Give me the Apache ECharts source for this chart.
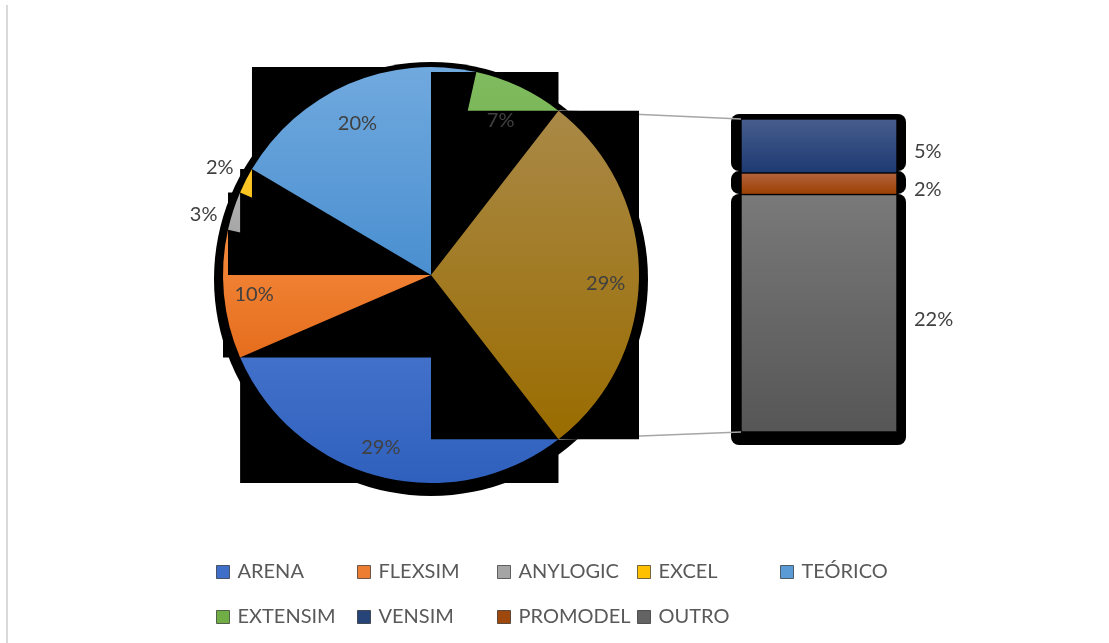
<!DOCTYPE html>
<html>
<head>
<meta charset="utf-8">
<script src="https://cdn.jsdelivr.net/npm/echarts@6/dist/echarts.min.js"></script>
<style>
  html, body { margin: 0; padding: 0; background: #fff; }
  #chart { width: 1109px; height: 643px; }
</style>
</head>
<body>
<div id="chart"></div>
<script>
// pie slices, clockwise from the split-out slice
const pieNames = ['ARENA', 'FLEXSIM', 'ANYLOGIC', 'EXCEL', 'TEÓRICO', 'EXTENSIM'];
const pieValues = [29, 10, 3, 2, 20, 7];
// the part split out into the bar, top to bottom
const otherNames = ['VENSIM', 'PROMODEL', 'OUTRO'];
const otherValues = [5, 2, 22];
// legend, column by column
const legendColumns = [
  ['ARENA', 'EXTENSIM'],
  ['FLEXSIM', 'VENSIM'],
  ['ANYLOGIC', 'PROMODEL'],
  ['EXCEL', 'OUTRO'],
  ['TEÓRICO']
];

// colours (gradient top, bottom)
const shades = {
  'ARENA': ['#4d7cd1', '#2f60bd'],
  'FLEXSIM': ['#f68b3e', '#e56d1d'],
  'ANYLOGIC': ['#b2b2b2', '#9a9a9a'],
  'EXCEL': ['#ffc82a', '#f5b800'],
  'TEÓRICO': ['#70a9de', '#4a8fd0'],
  'EXTENSIM': ['#80bc5f', '#6aa944'],
  'Outros': ['#a98947', '#9a6c00'],
  'VENSIM': ['#475d8d', '#1d3a72'],
  'PROMODEL': ['#b3633f', '#9c3f00'],
  'OUTRO': ['#797979', '#565656']
};
const flat = {
  'ARENA': '#3f6fc8', 'FLEXSIM': '#ed7d31', 'ANYLOGIC': '#a5a5a5', 'EXCEL': '#ffc000',
  'TEÓRICO': '#5b9bd5', 'EXTENSIM': '#70ad47', 'VENSIM': '#264478', 'PROMODEL': '#9e480e',
  'OUTRO': '#636363'
};
const grad = c => new echarts.graphic.LinearGradient(0, 0, 0, 1, [
  { offset: 0, color: c[0] }, { offset: 1, color: c[1] }
]);

const font = 'Lato, "Noto Sans", sans-serif';
const labelColor = '#404040';

// small hand nudges of the pie labels [dx, dy], like Excel's placement
const labelNudge = {
  'ARENA': [-6, 0], 'FLEXSIM': [0, 3], 'ANYLOGIC': [-2, 13],
  'TEÓRICO': [-3, 12], 'EXTENSIM': [-6, 6], 'Outros': [-3, 9]
};
// dx through side padding, dy through two empty lines above the text
function nudgedLabel(n) {
  const [dx, dy] = labelNudge[n] || [0, 0];
  const out = { padding: [0, Math.max(-2 * dx, 0), 0, Math.max(2 * dx, 0)] };
  if (dy > 0) {
    out.formatter = '\n\n{c}%';
    out.lineHeight = dy;
  }
  return out;
}

// pie geometry
const cx = 431, cy = 275, R = 208;
const otherTotal = otherValues.reduce((a, b) => a + b, 0);
const sliceNames = pieNames.concat(['Outros']);
const sliceValues = pieValues.concat([otherTotal]);
const total = sliceValues.reduce((a, b) => a + b, 0);
// split-out slice centred on 3 o'clock
const startAngle = -otherTotal / total * 180;

// angles (screen degrees, clockwise from 3 o'clock) of slice i
function sliceAngles(i) {
  let t0 = -startAngle;
  for (let j = 0; j < i; j++) t0 += sliceValues[j] / total * 360;
  return [t0, t0 + sliceValues[i] / total * 360];
}
function pointAt(t) {
  const a = t * Math.PI / 180;
  return [cx + R * Math.cos(a), cy + R * Math.sin(a)];
}
// bounding box of one wedge (centre + arc)
function sliceBox(i) {
  const [t0, t1] = sliceAngles(i);
  const pts = [[cx, cy], pointAt(t0), pointAt(t1)];
  for (let k = Math.ceil(t0 / 90); k * 90 <= t1; k++) pts.push(pointAt(k * 90));
  const xs = pts.map(p => p[0]), ys = pts.map(p => p[1]);
  const x = Math.min(...xs), y = Math.min(...ys);
  return { x, y, width: Math.max(...xs) - x, height: Math.max(...ys) - y };
}

const series = [];

// dark rim behind the pie
series.push({
  type: 'pie', center: [cx, cy + 4], radius: R + 9, silent: true, z: 1,
  label: { show: false }, labelLine: { show: false },
  itemStyle: { color: '#000', borderWidth: 0 },
  data: [{ value: 1, name: '' }]
});

// one layer per slice: black box first, then the slice on top
sliceNames.forEach((name, i) => {
  series.push({
    type: 'custom', coordinateSystem: 'none', silent: true, z: 9 + 2 * i,
    data: [[i]],
    renderItem: () => ({ type: 'rect', shape: sliceBox(i), style: { fill: '#000' } })
  });
  series.push({
    type: 'pie', center: [cx, cy], radius: R, startAngle, clockwise: true,
    silent: true, z: 10 + 2 * i,
    label: { show: false }, labelLine: { show: false },
    itemStyle: { borderWidth: 0 },
    data: sliceNames.map((n, j) => ({
      name: n, value: sliceValues[j],
      itemStyle: { color: j === i ? grad(shades[n]) : 'rgba(0,0,0,0)' }
    }))
  });
});

// percentage labels: big slices near the rim, small ones outside
function labelPie(outer, test) {
  return {
    type: 'pie', center: [cx, cy], radius: [0, outer], startAngle, clockwise: true,
    silent: true, z: 40, avoidLabelOverlap: false,
    itemStyle: { color: 'rgba(0,0,0,0)', borderWidth: 0 },
    labelLine: { show: false },
    label: {
      position: 'inside', formatter: '{c}%',
      fontFamily: font, fontSize: 20, color: labelColor
    },
    data: sliceNames.map((n, j) => ({
      name: n, value: sliceValues[j],
      label: Object.assign({ show: test(sliceValues[j]) }, nudgedLabel(n))
    }))
  };
}
series.push(labelPie(2 * 0.84 * R, v => v >= 5));
series.push(labelPie(2 * 1.125 * R, v => v < 5));

// the bar: black halo behind, coloured segments on top (bottom to top)
for (let k = otherNames.length - 1; k >= 0; k--) {
  const name = otherNames[k];
  series.push({
    type: 'bar', stack: 'halo', xAxisIndex: 1, yAxisIndex: 1, barWidth: '100%',
    silent: true, z: 2, data: [otherValues[k]],
    itemStyle: { color: '#000', borderRadius: 8 }
  });
  series.push({
    type: 'bar', name, stack: 'other', xAxisIndex: 0, yAxisIndex: 0, barWidth: '100%',
    silent: true, z: 4, data: [otherValues[k]],
    itemStyle: { color: grad(shades[name]), borderColor: 'rgba(0,0,0,0.4)', borderWidth: 1 },
    label: {
      show: true, position: 'right', distance: 17, offset: [0, 6], formatter: '{c}%',
      fontFamily: font, fontSize: 20, color: labelColor
    }
  });
}

const legendLeft = [216, 357, 497, 637, 780];

const option = {
  animation: false,
  backgroundColor: '#fff',
  grid: [
    { left: 741, top: 119, width: 156, height: 313 },
    { left: 731, top: 114, width: 175, height: 331 }
  ],
  xAxis: [
    { type: 'category', gridIndex: 0, data: [''], show: false },
    { type: 'category', gridIndex: 1, data: [''], show: false }
  ],
  yAxis: [
    { type: 'value', gridIndex: 0, min: 0, max: otherTotal, show: false },
    { type: 'value', gridIndex: 1, min: 0, max: otherTotal, show: false }
  ],
  legend: legendColumns.map((col, k) => ({
    orient: 'vertical', left: legendLeft[k], top: 560, padding: 0, itemGap: 21,
    itemWidth: 13, itemHeight: 13, selectedMode: false,
    textStyle: { fontFamily: font, fontSize: 20, color: '#595959', lineHeight: 24, padding: [0, 0, 0, 3] },
    data: col.map(n => ({
      name: n, icon: 'rect',
      itemStyle: { color: flat[n], borderColor: 'rgba(0,0,0,0.55)', borderWidth: 1 }
    }))
  })),
  series
};

const chart = echarts.init(document.getElementById('chart'));
chart.setOption(option);

// connector lines from the split-out slice to the bar, plus the frame edge
const barLeft = 741;
const barTop = chart.convertToPixel({ yAxisIndex: 0 }, otherTotal);
const barBottom = chart.convertToPixel({ yAxisIndex: 0 }, 0);
const [a0, a1] = sliceAngles(sliceNames.length - 1);
const pTop = pointAt(a0), pBottom = pointAt(a1);
chart.setOption({
  graphic: [
    { type: 'line', z: 5, silent: true, shape: { x1: pTop[0], y1: pTop[1], x2: barLeft, y2: barTop },
      style: { stroke: '#a6a6a6', lineWidth: 1.5 } },
    { type: 'line', z: 5, silent: true, shape: { x1: pBottom[0], y1: pBottom[1], x2: barLeft, y2: barBottom },
      style: { stroke: '#a6a6a6', lineWidth: 1.5 } },
    { type: 'line', z: 0, silent: true, shape: { x1: 7, y1: 5, x2: 7, y2: 643 },
      style: { stroke: '#d9d9d9', lineWidth: 2 } }
  ]
});
</script>
</body>
</html>
